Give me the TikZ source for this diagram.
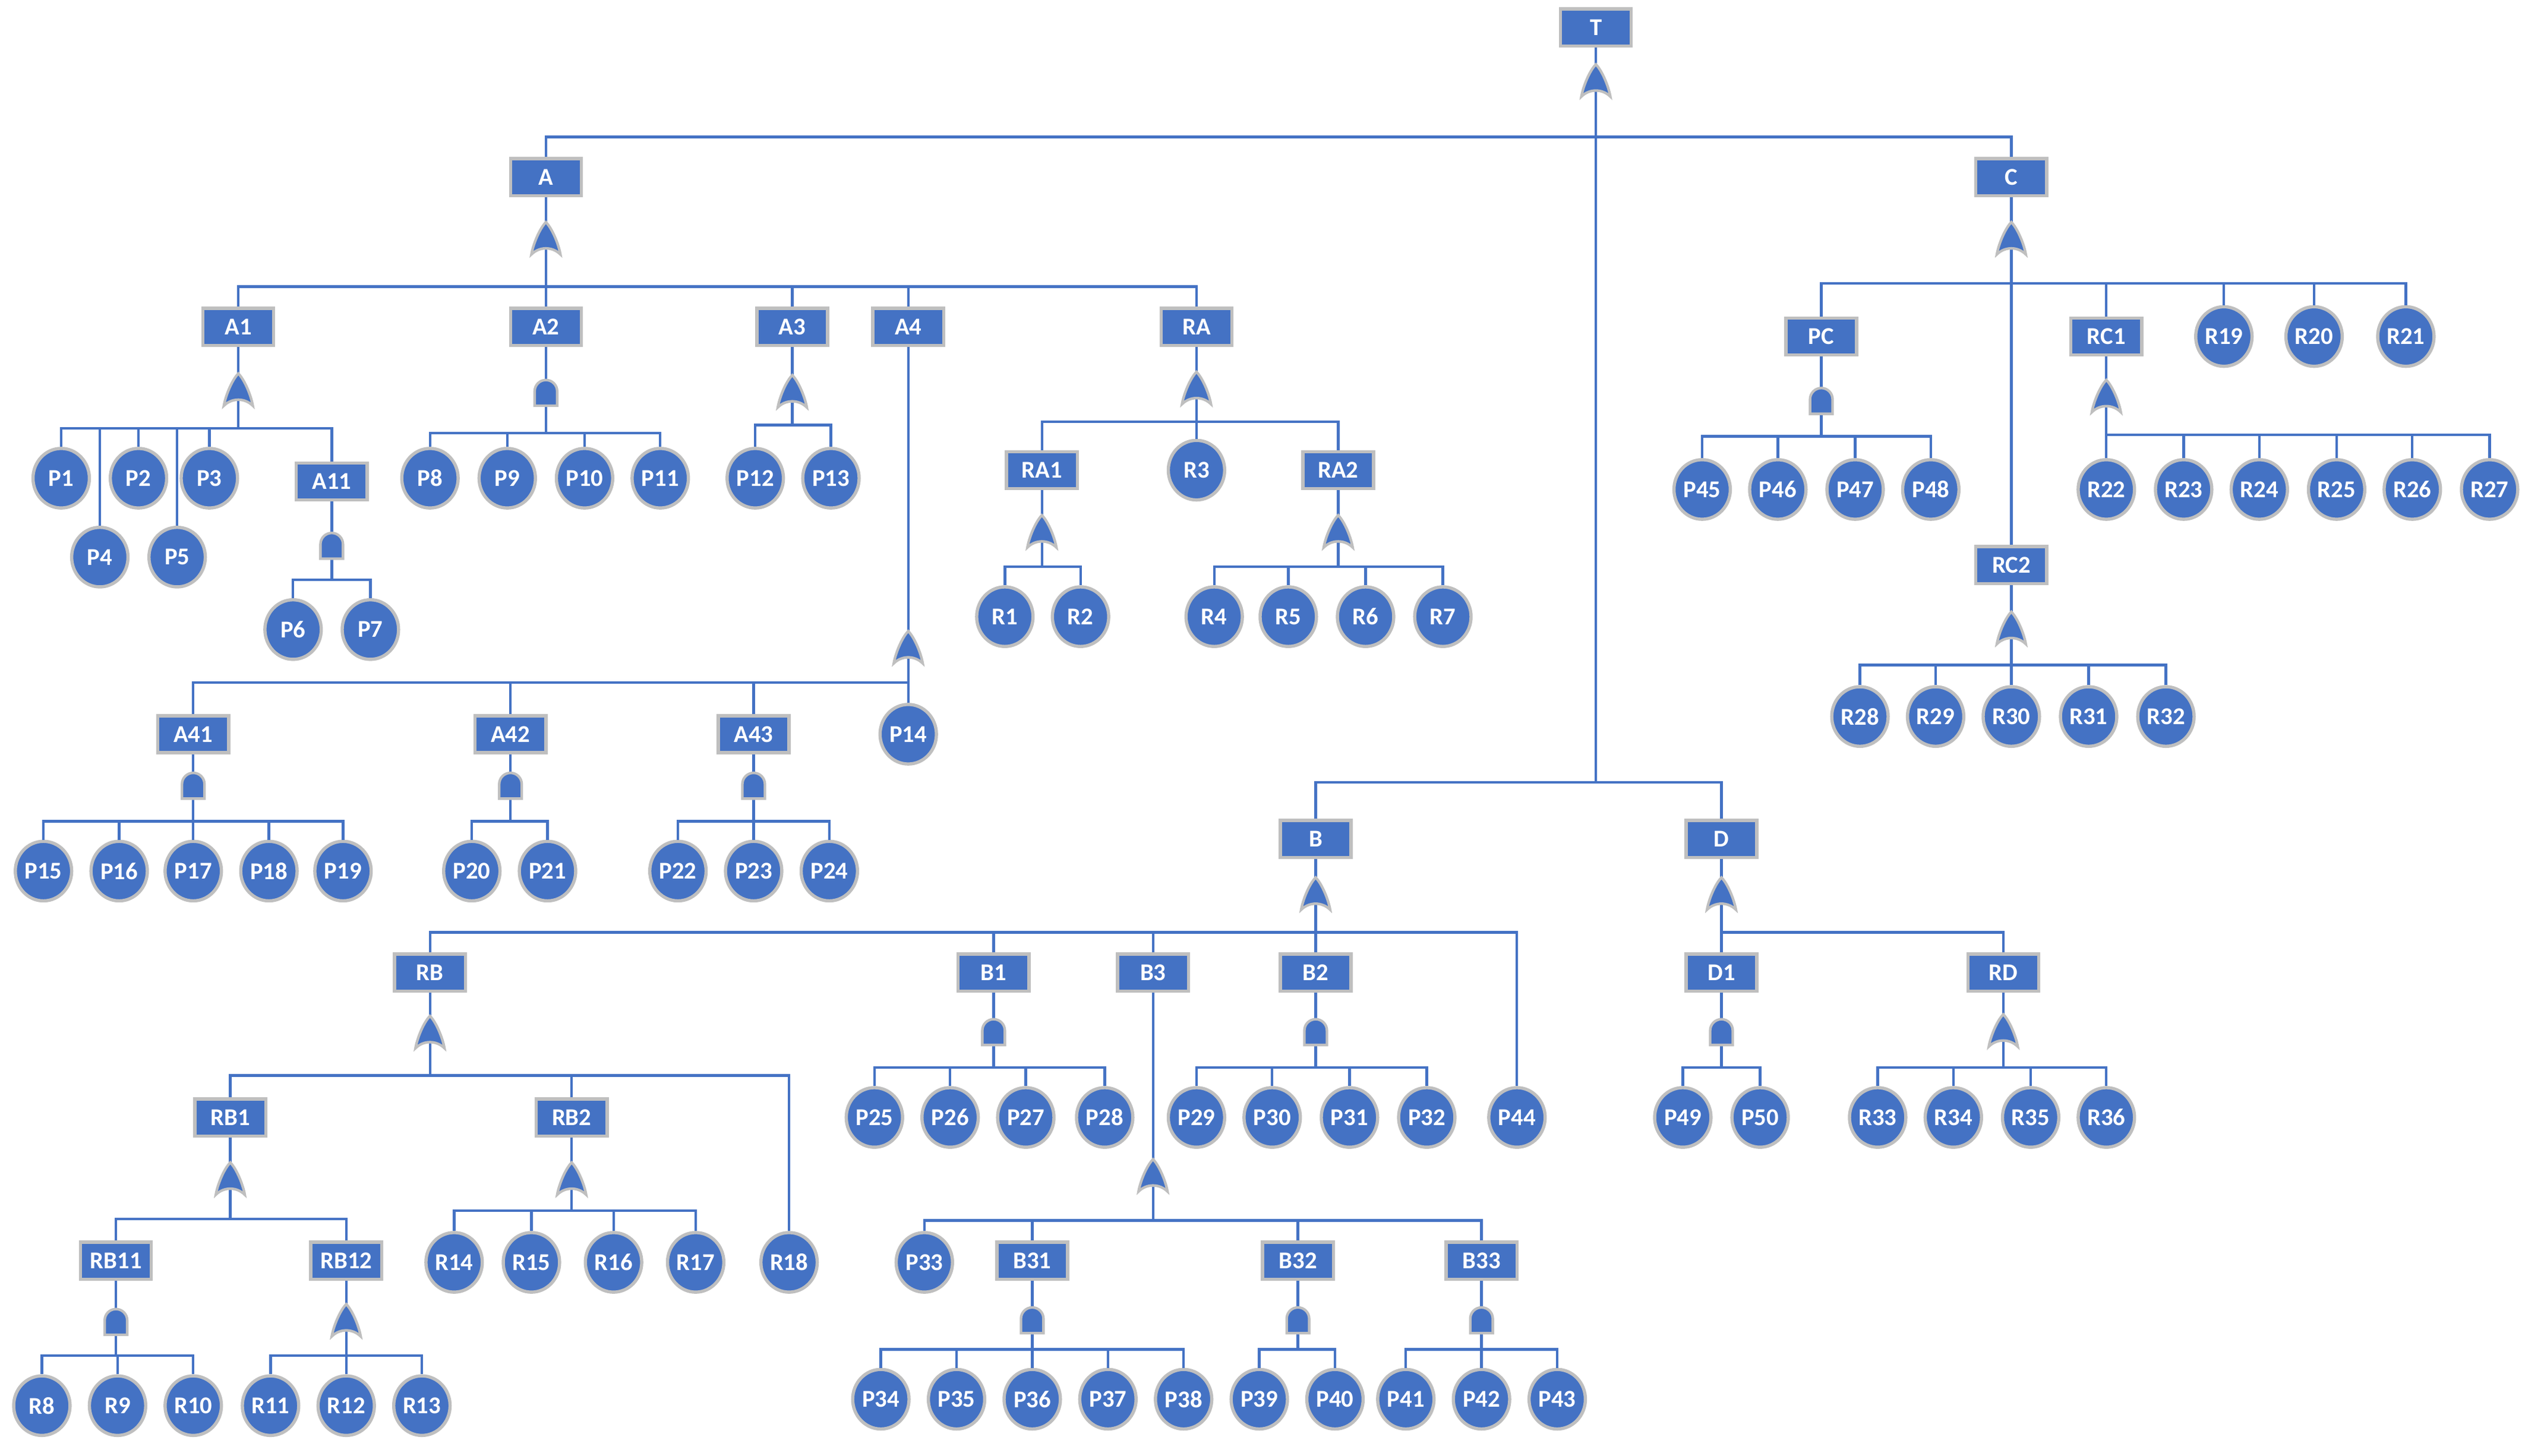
\documentclass[tikz,border=0pt]{standalone}
\usepackage{fontspec}
\setmainfont{Carlito}
\definecolor{ftblue}{RGB}{68,114,196}
\definecolor{ftgray}{RGB}{191,191,191}
\tikzset{every picture/.style={line width=0.8pt}}
\tikzset{
  box/.style={rectangle,fill=ftblue,draw=ftgray,line width=1pt,text=white,font=\fontsize{7.5}{8}\selectfont\bfseries,minimum width=22pt,minimum height=11.5pt,inner sep=1.5pt},
  evt/.style={ellipse,fill=ftblue,draw=ftgray,line width=1pt,text=white,font=\fontsize{7.5}{8}\selectfont\bfseries,minimum width=17.5pt,minimum height=18.5pt,inner sep=0pt},
  link/.style={draw=ftblue,line width=0.8pt},
  gate/.style={fill=ftblue,draw=ftgray,line width=0.8pt}
}
\usetikzlibrary{shapes.geometric}
% parent, bus y, children
\newcommand\branch[3]{%
  \coordinate (#1b) at (#1 |- 0,#2);
  \draw[link] (#1) -- (#1b);
  \foreach \c in {#3} \draw[link] (\c.north) |- (#1b);}
\newcommand\orgate[2]{%
  \begin{scope}[shift={(#1,#2)}]
  \draw[gate] (0,-10) .. controls (4,-6) and (8,4) .. (9,10) .. controls (4,5) and (-4,5) .. (-9,10) .. controls (-8,4) and (-4,-6) .. (0,-10) -- cycle;
  \end{scope}}
\newcommand\andgate[2]{%
  \begin{scope}[shift={(#1,#2)}]
  \draw[gate] (-7,9) -- (-7,0) arc (180:360:7) -- (7,9) -- cycle;
  \end{scope}}
\begin{document}
\begin{tikzpicture}[x=0.5pt,y=0.5pt,yscale=-1]
\useasboundingbox (0,0) rectangle (1568,904);
% boxes
\foreach \n/\x/\y in {T/991/17, A/339/110, C/1249/110, A1/148/203, A2/339/203, A3/492/203, A4/564/203, RA/743/203,
  A11/206/299, RA1/647/292, RA2/831/292, A41/120/456, A42/317/456, A43/468/456,
  PC/1131/209, RC1/1308/209, RC2/1249/351, B/817/521, D/1069/521,
  RB/267/604, B1/617/604, B3/716/604, B2/817/604, D1/1069/604, RD/1244/604,
  RB1/143/694, RB2/355/694, RB11/72/783, RB12/215/783, B31/641/783, B32/806/783, B33/920/783}
  \node[box] (\n) at (\x,\y) {\n};
% events
\foreach \n/\x/\y in {P1/38/297, P4/62/346, P2/86/297, P5/110/346, P3/130/297, P6/182/391, P7/230/391,
  P8/267/297, P9/315/297, P10/363/297, P11/410/297, P12/469/297, P13/516/297,
  P14/564/456, P15/27/541, P16/74/541, P17/120/541, P18/167/541, P19/213/541,
  P20/293/541, P21/340/541, P22/421/541, P23/468/541, P24/515/541,
  R3/743/292, R1/624/383, R2/671/383, R4/754/383, R5/800/383, R6/848/383, R7/896/383,
  R19/1381/209, R20/1437/209, R21/1494/209,
  P45/1057/304, P46/1104/304, P47/1152/304, P48/1199/304,
  R22/1308/304, R23/1356/304, R24/1403/304, R25/1451/304, R26/1498/304, R27/1546/304,
  R28/1155/445, R29/1202/445, R30/1249/445, R31/1297/445, R32/1345/445,
  P44/942/694, R18/490/784, R8/26/873, R9/73/873, R10/120/873, R11/168/873, R12/215/873, R13/262/873,
  R14/282/784, R15/330/784, R16/381/784, R17/432/784,
  P25/543/694, P26/590/694, P27/637/694, P28/686/694, P29/743/694, P30/790/694, P31/838/694, P32/886/694,
  P33/574/784, P34/547/869, P35/594/869, P36/641/869, P37/688/869, P38/735/869,
  P39/782/869, P40/829/869, P41/873/869, P42/920/869, P43/967/869,
  P49/1045/694, P50/1093/694, R33/1166/694, R34/1213/694, R35/1261/694, R36/1308/694}
  \node[evt] (\n) at (\x,\y) {\n};
% connectors
\branch{T}{85}{A,C}
\draw[link] (Tb) -- (T |- 0,486) coordinate (Tc);
\foreach \c in {B,D} \draw[link] (\c.north) |- (Tc);
\branch{A}{178}{A1,A2,A3,A4,RA}
\branch{A1}{266}{P1,P4,P2,P5,P3,A11}
\branch{A11}{360}{P6,P7}
\branch{A2}{269}{P8,P9,P10,P11}
\branch{A3}{264}{P12,P13}
\branch{A4}{424}{A41,A42,A43,P14}
\branch{A41}{510}{P15,P16,P17,P18,P19}
\branch{A42}{510}{P20,P21}
\branch{A43}{510}{P22,P23,P24}
\branch{RA}{262}{RA1,R3,RA2}
\branch{RA1}{352}{R1,R2}
\branch{RA2}{352}{R4,R5,R6,R7}
\branch{C}{176}{PC,RC1,R19,R20,R21,RC2}
\branch{PC}{271}{P45,P46,P47,P48}
\branch{RC1}{270}{R22,R23,R24,R25,R26,R27}
\branch{RC2}{413}{R28,R29,R30,R31,R32}
\branch{B}{579}{RB,B1,B3,B2,P44}
\branch{RB}{668}{RB1,RB2,R18}
\branch{RB1}{757}{RB11,RB12}
\branch{RB11}{842}{R8,R9,R10}
\branch{RB12}{842}{R11,R12,R13}
\branch{RB2}{752}{R14,R15,R16,R17}
\branch{B1}{663}{P25,P26,P27,P28}
\branch{B2}{663}{P29,P30,P31,P32}
\branch{B3}{758}{P33,B31,B32,B33}
\branch{B31}{838}{P34,P35,P36,P37,P38}
\branch{B32}{838}{P39,P40}
\branch{B33}{838}{P41,P42,P43}
\branch{D}{579}{D1,RD}
\branch{D1}{663}{P49,P50}
\branch{RD}{663}{R33,R34,R35,R36}
% gates
\orgate{991}{50} \orgate{339}{148} \orgate{1249}{148}
\orgate{148}{242} \andgate{206}{338} \andgate{339}{243} \orgate{492}{243}
\orgate{564}{402} \andgate{120}{487} \andgate{317}{487} \andgate{468}{487}
\orgate{743}{241} \orgate{647}{330} \orgate{831}{330}
\andgate{1131}{248} \orgate{1308}{246} \orgate{1249}{390}
\orgate{817}{555} \orgate{267}{641} \orgate{143}{732} \andgate{72}{820} \orgate{215}{820}
\orgate{355}{732} \andgate{617}{640} \andgate{817}{640} \orgate{716}{730}
\andgate{641}{819} \andgate{806}{819} \andgate{920}{819}
\orgate{1069}{555} \andgate{1069}{640} \orgate{1244}{640}
\end{tikzpicture}
\end{document}
